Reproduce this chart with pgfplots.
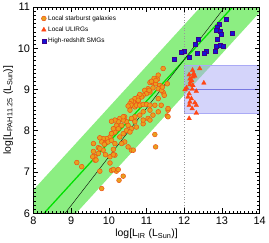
\documentclass[border=0pt]{standalone}
\usepackage{pgfplots}
\pgfplotsset{compat=1.18}
\usepackage{fontspec}
\setmainfont{Liberation Sans}
\definecolor{bandgreen}{RGB}{140,238,130}
\definecolor{linegreen}{RGB}{0,225,0}
\definecolor{sbfill}{RGB}{232,160,30}
\definecolor{sbedge}{RGB}{240,80,20}
\definecolor{ulirg}{RGB}{255,70,20}
\definecolor{smg}{RGB}{20,20,215}
\definecolor{smgedge}{RGB}{60,0,140}
\definecolor{boxblue}{RGB}{170,170,245}
\definecolor{boxline}{RGB}{120,120,225}
\begin{document}
\begin{tikzpicture}
\begin{axis}[
  width=227bp, height=207bp, scale only axis,
  axis on top,
  xmin=8, xmax=14, ymin=6, ymax=11,
  xtick={8,9,...,14}, ytick={6,7,...,11},
  minor x tick num=9, minor y tick num=9,
  tick align=inside, major tick length=5bp, minor tick length=2.5bp,
  tick style={black, line width=0.6pt},
  axis line style={line width=0.6pt},
  /pgf/number format/assume math mode=true,
  tick label style={font=\fontsize{11}{11}\selectfont},
  xlabel={log[L$_{\mathrm{IR}}$ (L$_{\mathrm{Sun}}$)]},
  ylabel={log[L$_{\mathrm{PAH11.25}}$ (L$_{\mathrm{Sun}}$)]},
  label style={font=\fontsize{10.5}{10.5}\selectfont},
  xlabel style={yshift=2bp},
  ylabel style={yshift=-2bp},
  clip=true,
  legend style={draw=none, fill=none, at={(0.03,0.975)}, anchor=north west,
    font=\fontsize{6.5}{7.5}\selectfont, row sep=1.2bp, inner sep=1bp},
  legend cell align=left,
]
% band
\addplot[draw=none, fill=bandgreen, forget plot] coordinates {(8,4.87) (14,10.87) (14,12.57) (8,6.57)} -- cycle;
\addplot[linegreen, line width=1.3pt, forget plot] coordinates {(8,5.72) (14,11.72)};
\addplot[black, line width=0.4pt, forget plot] coordinates {(8,5.01) (14,12.09)};
% blue box
\addplot[draw=boxblue, fill=boxblue, fill opacity=0.5, forget plot] coordinates {(12,8.42) (14,8.42) (14,9.59) (12,9.59)} -- cycle;
\addplot[boxline, line width=0.8pt, forget plot] coordinates {(12,9.0) (14,9.0)};
\addplot[gray!80, dotted, line width=0.7pt, forget plot] coordinates {(12,6) (12,11)};
% starburst
\addplot[only marks, mark=*, mark size=2.4bp, mark options={fill=sbfill, draw=sbedge, line width=0.5pt}] coordinates {
(11.44,9.51) (11.31,9.35) (11.29,9.25) (11.20,9.27) (11.15,9.17) (11.09,9.17) (11.24,9.14) (11.35,9.10)
(11.55,9.14) (11.39,9.04) (11.44,8.93) (11.47,8.86) (11.31,9.02) (11.17,9.04) (11.04,9.02) (10.95,8.98)
(11.09,8.94) (11.00,8.90) (10.91,8.86) (10.87,8.82) (10.82,8.88) (10.76,8.80) (10.69,8.78) (10.78,8.72)
(10.65,8.70) (10.60,8.72) (10.56,8.66) (10.60,8.62) (10.51,8.60) (10.69,8.58) (10.73,8.62) (10.82,8.62)
(10.91,8.64) (11.00,8.64) (11.09,8.62) (11.22,8.62) (11.31,8.78) (11.39,8.62) (11.57,8.50) (11.55,8.36)
(11.31,8.46) (11.09,8.50) (10.91,8.46) (10.82,8.38) (10.69,8.34) (10.60,8.30) (10.47,8.22) (10.42,8.34)
(10.38,8.26) (10.29,8.30) (10.25,8.22) (10.16,8.26) (10.07,8.23) (10.20,8.13) (10.34,8.13) (10.25,8.05)
(10.16,7.97) (10.07,7.93) (10.12,8.05) (10.51,8.13) (10.60,8.05) (10.73,8.09) (10.47,8.01) (10.38,7.93)
(10.29,7.85) (10.03,7.85) (9.94,7.81) (9.85,7.81) (9.81,7.73) (9.76,7.83) (9.90,7.69) (9.98,7.73)
(10.07,7.77) (10.16,7.69) (9.59,7.69) (9.59,7.50) (9.72,7.59) (9.85,7.53) (10.12,7.55) (10.16,7.41)
(9.63,7.37) (9.72,7.45) (10.60,7.53) (11.22,7.91) (11.24,7.61) (10.56,7.97) (10.69,8.22) (10.91,8.17)
(11.04,8.30) (11.17,8.38) (10.42,7.73) (10.34,7.69) (9.57,7.37) (9.76,7.57) (9.88,7.67) (9.91,7.42)
(10.03,7.37) (10.12,7.42) (9.63,7.29) (9.15,7.23) (9.28,7.13) (9.76,7.02) (10.07,7.04) (10.20,7.02)
(9.81,6.60) (9.66,7.29) (10.03,7.22) (10.12,7.06) (10.25,7.06) (10.38,6.90) (10.27,6.80) (10.51,7.61)
(10.65,7.53) (10.07,7.93) (11.25,9.22) (11.13,9.20) (11.07,8.98) (11.40,8.98) (11.42,9.06) (11.57,8.54)
(11.57,8.34) (10.78,8.74) (10.91,8.26) (11.09,8.26) (10.38,8.34) (10.56,8.50)
};
\addlegendentry{Local starburst galaxies}
% ULIRGs
\addplot[only marks, mark=triangle*, mark size=2.7bp, mark options={fill=ulirg, draw=ulirg, line width=0.3pt}] coordinates {
(12.41,9.51) (12.22,9.47) (12.25,9.39) (12.13,9.36) (12.28,9.33) (12.52,9.16) (12.16,9.18) (12.06,9.04)
(12.15,9.12) (12.23,9.10) (12.21,9.01) (12.32,8.96) (12.13,8.90) (12.10,8.82) (12.19,8.78) (12.15,8.70)
(12.28,8.68) (12.13,8.62) (12.32,8.62) (12.21,8.54) (12.32,8.43) (12.13,8.30) (12.23,9.31) (12.15,9.26)
(12.02,9.00) (12.20,9.22)
};
\addlegendentry{Local ULIRGs}
% SMGs
\addplot[only marks, mark=square*, mark size=2bp, mark options={fill=smg, draw=smgedge, line width=0.4pt}] coordinates {
(13.11,10.70) (12.92,10.58) (12.87,10.50) (12.96,10.41) (12.85,10.44) (13.27,10.37) (12.98,10.34)
(12.87,10.23) (12.37,10.23) (12.28,10.10) (12.85,10.06) (12.96,10.07) (13.03,10.05) (12.01,9.93)
(11.92,9.91) (12.35,9.87) (12.57,9.93) (12.52,9.87) (12.81,9.93) (12.13,9.79) (11.73,9.73)
};
\addlegendentry{High-redshift SMGs}
\end{axis}
\end{tikzpicture}
\end{document}
